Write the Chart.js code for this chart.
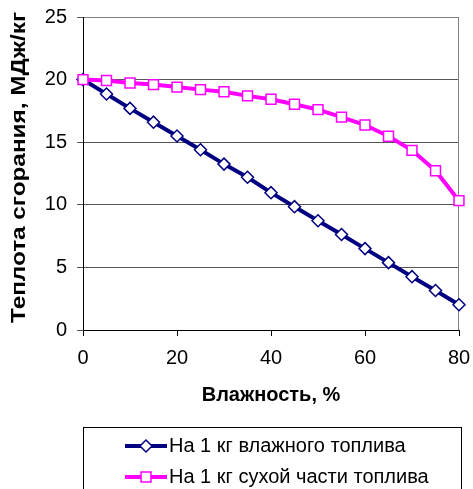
<!DOCTYPE html>
<html>
<head>
<meta charset="utf-8">
<script src="https://cdn.jsdelivr.net/npm/chart.js@4"></script>
<style>
  html, body { margin: 0; padding: 0; background: #fff; }
  #wrap { width: 473px; height: 489px; }
</style>
</head>
<body>
<div id="wrap"><canvas id="heatChart" width="473" height="489"></canvas></div>
<script>
// Влажность, %
const moisture = [0, 5, 10, 15, 20, 25, 30, 35, 40, 45, 50, 55, 60, 65, 70, 75, 80];
// На 1 кг влажного топлива
const wetFuel = [20, 18.85, 17.7, 16.6, 15.5, 14.4, 13.25, 12.2, 10.97, 9.85, 8.73, 7.63, 6.5, 5.38, 4.26, 3.15, 2.02];
// На 1 кг сухой части топлива
const dryFuel = [20, 19.93, 19.73, 19.6, 19.4, 19.2, 19.03, 18.7, 18.43, 18.03, 17.6, 17.0, 16.37, 15.47, 14.35, 12.72, 10.33];
const xTicks = [0, 20, 40, 60, 80];
const yTicks = [0, 5, 10, 15, 20, 25];

const labels = ['На 1 кг влажного топлива', 'На 1 кг сухой части топлива'];
const yTitle = 'Теплота сгорания, МДж/кг';
const toPoints = vals => moisture.map((m, i) => ({ x: m, y: vals[i] }));

const FONT = "'Liberation Sans', Arial, sans-serif";

// Excel-like frame around plot area
const frame = {
    id: 'frame',
    beforeDatasetsDraw(chart) {
        const { ctx, chartArea: a } = chart;
        ctx.save();
        ctx.strokeStyle = '#808080';
        ctx.lineWidth = 1;
        ctx.beginPath();
        ctx.moveTo(a.left, a.top + 0.5);
        ctx.lineTo(a.right - 0.5, a.top + 0.5);
        ctx.lineTo(a.right - 0.5, a.bottom);
        ctx.stroke();
        ctx.strokeStyle = '#000';
        ctx.beginPath();
        ctx.moveTo(a.left + 0.5, a.top);
        ctx.lineTo(a.left + 0.5, a.bottom + 0.5);
        ctx.lineTo(a.right, a.bottom + 0.5);
        ctx.stroke();
        ctx.restore();
    }
};

// vertical title, a bit stretched like the original
const sideTitle = {
    id: 'sideTitle',
    afterDraw(chart) {
        const { ctx } = chart;
        ctx.save();
        ctx.font = 'bold 21px ' + FONT;
        ctx.fillStyle = '#000';
        ctx.textAlign = 'center';
        ctx.textBaseline = 'alphabetic';
        const w = ctx.measureText(yTitle).width;
        ctx.translate(25, 167.5);
        ctx.rotate(-Math.PI / 2);
        ctx.scale(311 / w, 1);
        ctx.fillText(yTitle, 0, 0);
        ctx.restore();
    }
};

// legend box under the chart
const boxLegend = {
    id: 'boxLegend',
    afterDraw(chart) {
        const { ctx } = chart;
        const left = 83, top = 427, right = 461;
        ctx.save();
        ctx.strokeStyle = '#000';
        ctx.lineWidth = 1;
        ctx.strokeRect(left + 0.5, top + 0.5, right - left, 100);
        const rows = [446, 477];
        chart.data.datasets.forEach((ds, i) => {
            const y = rows[i];
            ctx.strokeStyle = ds.borderColor;
            ctx.lineWidth = 4;
            ctx.beginPath();
            ctx.moveTo(125, y);
            ctx.lineTo(167, y);
            ctx.stroke();
            ctx.fillStyle = '#fff';
            ctx.strokeStyle = ds.pointBorderColor;
            ctx.lineWidth = 1.5;
            Chart.helpers.drawPoint(ctx, {
                pointStyle: ds.pointStyle,
                radius: ds.pointRadius,
                borderWidth: 1.5
            }, 146, y);
            ctx.fillStyle = '#000';
            ctx.font = '20px ' + FONT;
            ctx.textBaseline = 'middle';
            ctx.fillText(ds.label, 169, y);
        });
        ctx.restore();
    }
};

new Chart(document.getElementById('heatChart'), {
    type: 'line',
    data: {
        datasets: [{
            label: labels[0],
            data: toPoints(wetFuel),
            borderColor: '#000080',
            borderWidth: 4,
            pointStyle: 'rectRot',
            pointRadius: 6,
            pointBackgroundColor: '#fff',
            pointBorderColor: '#000080',
            pointBorderWidth: 1.5,
            tension: 0,
            clip: false,
            order: 1
        }, {
            label: labels[1],
            data: toPoints(dryFuel),
            borderColor: '#ff00ff',
            borderWidth: 4,
            pointStyle: 'rect',
            pointRadius: 7,
            pointBackgroundColor: '#fff',
            pointBorderColor: '#ff00ff',
            pointBorderWidth: 1.5,
            tension: 0,
            clip: false,
            order: 0
        }]
    },
    options: {
        responsive: false,
        animation: false,
        layout: { padding: { top: 17, right: 14, bottom: 79, left: 0 } },
        plugins: {
            legend: { display: false },
            tooltip: { enabled: false }
        },
        scales: {
            x: {
                type: 'linear',
                min: 0,
                max: 80,
                afterBuildTicks: s => { s.ticks = xTicks.map(v => ({ value: v })); },
                afterFit: s => { s.height = 80; s.paddingLeft = 0; s.paddingRight = 0; },
                border: { display: false },
                grid: { drawOnChartArea: false, tickLength: 6, color: '#000' },
                ticks: { color: '#000', font: { family: FONT, size: 20 }, padding: 10, maxRotation: 0 },
                title: {
                    display: true,
                    text: 'Влажность, %',
                    color: '#000',
                    font: { family: FONT, size: 20, weight: 'bold' },
                    padding: { top: 0, bottom: 3 }
                }
            },
            y: {
                min: 0,
                max: 25,
                afterBuildTicks: s => { s.ticks = yTicks.map(v => ({ value: v })); },
                afterFit: s => { s.width = 83; s.paddingTop = 0; s.paddingBottom = 0; },
                border: { display: false },
                grid: { color: '#555', tickLength: 6, lineWidth: 1 },
                ticks: { color: '#000', font: { family: FONT, size: 20 }, padding: 10 }
            }
        }
    },
    plugins: [frame, sideTitle, boxLegend]
});
</script>
</body>
</html>
